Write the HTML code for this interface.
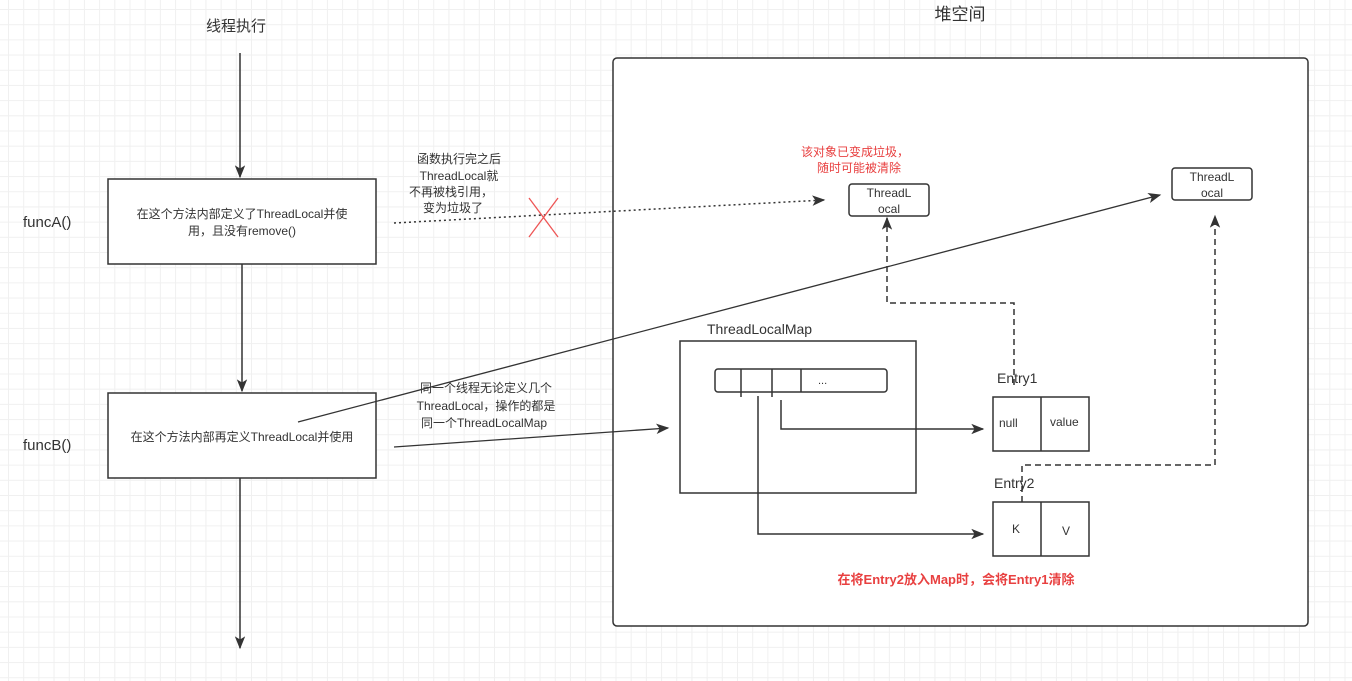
<!DOCTYPE html>
<html><head><meta charset="utf-8"><style>
html,body{margin:0;padding:0;}
body{width:1352px;height:681px;overflow:hidden;background-color:#fff;
background-image:linear-gradient(#f0f0f0 1px,transparent 1px),linear-gradient(90deg,#f0f0f0 1px,transparent 1px);
background-size:15.2px 15.2px;background-position:8px 9px;}
svg{position:absolute;left:0;top:0;}
text{font-family:"Liberation Sans","Noto Sans CJK SC",sans-serif;fill:#333;}
</style></head><body>
<svg width="1352" height="681" viewBox="0 0 1352 681">
<defs>
<marker id="a" viewBox="0 0 10 10" refX="9" refY="5" markerWidth="8" markerHeight="8" orient="auto" markerUnits="userSpaceOnUse"><path d="M0,1 L10,5 L0,9 L2.5,5z" fill="#333"/></marker>
<marker id="b" viewBox="0 0 10 10" refX="9" refY="5" markerWidth="13" markerHeight="13" orient="auto" markerUnits="userSpaceOnUse"><path d="M0,1 L10,5 L0,9 L2.5,5z" fill="#333"/></marker>
</defs>
<g stroke="#333" stroke-width="1.5" fill="none">
<rect x="613" y="58" width="695" height="568" rx="4" fill="#fff"/>
<line x1="240" y1="53" x2="240" y2="177" marker-end="url(#b)"/>
<rect x="108" y="179" width="268" height="85" fill="#fff"/>
<line x1="242" y1="264" x2="242" y2="391" marker-end="url(#b)"/>
<rect x="108" y="393" width="268" height="85" fill="#fff"/>
<line x1="240" y1="478" x2="240" y2="648" marker-end="url(#b)"/>
<line x1="394" y1="223" x2="824" y2="200" stroke-dasharray="2,3" marker-end="url(#b)"/>
<line x1="298" y1="422" x2="1160" y2="195" stroke-width="1.3" marker-end="url(#b)"/>
<line x1="394" y1="447" x2="668" y2="428" stroke-width="1.3" marker-end="url(#b)"/>
<rect x="849" y="184" width="80" height="32" rx="3" fill="#fff"/>
<rect x="1172" y="168" width="80" height="32" rx="3" fill="#fff"/>
<rect x="680" y="341" width="236" height="152" fill="#fff"/>
<rect x="715" y="369" width="172" height="23" rx="3" fill="#fff"/>
<line x1="741" y1="369" x2="741" y2="397"/>
<line x1="772" y1="369" x2="772" y2="397"/>
<line x1="801" y1="369" x2="801" y2="392"/>
<polyline points="781,400 781,429 983,429" marker-end="url(#b)"/>
<polyline points="758,396 758,534 983,534" marker-end="url(#b)"/>
<rect x="993" y="397" width="96" height="54" fill="#fff"/>
<line x1="1041" y1="397" x2="1041" y2="451"/>
<rect x="993" y="502" width="96" height="54" fill="#fff"/>
<line x1="1041" y1="502" x2="1041" y2="556"/>
<polyline points="1014,385 1014,303 887,303 887,218" stroke-dasharray="6,4" marker-end="url(#b)"/>
<polyline points="1022,502 1022,465 1215,465 1215,216" stroke-dasharray="6,4" marker-end="url(#b)"/>
<line x1="529" y1="198" x2="558" y2="237" stroke="#e55" stroke-width="1.3"/>
<line x1="558" y1="198" x2="529" y2="237" stroke="#e55" stroke-width="1.3"/>
</g>
<g font-size="13">
<text x="236" y="31" text-anchor="middle" font-size="15">线程执行</text>
<text x="960" y="20" text-anchor="middle" font-size="17">堆空间</text>
<text x="23" y="227" font-size="15">funcA()</text>
<text x="23" y="450" font-size="15">funcB()</text>
<text x="242" y="218" text-anchor="middle" font-size="12">在这个方法内部定义了ThreadLocal并使</text>
<text x="242" y="235" text-anchor="middle" font-size="12">用，且没有remove()</text>
<text x="242" y="441" text-anchor="middle" font-size="12">在这个方法内部再定义ThreadLocal并使用</text>
<text x="459" y="163" text-anchor="middle" font-size="12">函数执行完之后</text>
<text x="459" y="180" text-anchor="middle" font-size="12">ThreadLocal就</text>
<text x="451" y="196" text-anchor="middle" font-size="12">不再被栈引用，</text>
<text x="453" y="212" text-anchor="middle" font-size="12">变为垃圾了</text>
<text x="855" y="156" text-anchor="middle" font-size="12" style="fill:#e84040">该对象已变成垃圾，</text>
<text x="859" y="172" text-anchor="middle" font-size="12" style="fill:#e84040">随时可能被清除</text>
<text x="889" y="197" text-anchor="middle" font-size="12">ThreadL</text>
<text x="889" y="213" text-anchor="middle" font-size="12">ocal</text>
<text x="1212" y="181" text-anchor="middle" font-size="12">ThreadL</text>
<text x="1212" y="197" text-anchor="middle" font-size="12">ocal</text>
<text x="707" y="334" font-size="14">ThreadLocalMap</text>
<text x="818" y="384" font-size="11">...</text>
<text x="997" y="383" font-size="14">Entry1</text>
<text x="994" y="488" font-size="14">Entry2</text>
<text x="999" y="427" font-size="12">null</text>
<text x="1050" y="426" font-size="12">value</text>
<text x="1012" y="533" font-size="12">K</text>
<text x="1062" y="535" font-size="12">V</text>
<text x="486" y="392" text-anchor="middle" font-size="12">同一个线程无论定义几个</text>
<text x="486" y="410" text-anchor="middle" font-size="12">ThreadLocal，操作的都是</text>
<text x="484" y="427" text-anchor="middle" font-size="12">同一个ThreadLocalMap</text>
<text x="956" y="584" text-anchor="middle" font-size="13" font-weight="bold" style="fill:#e84040">在将Entry2放入Map时，会将Entry1清除</text>
</g>
</svg>
</body></html>
